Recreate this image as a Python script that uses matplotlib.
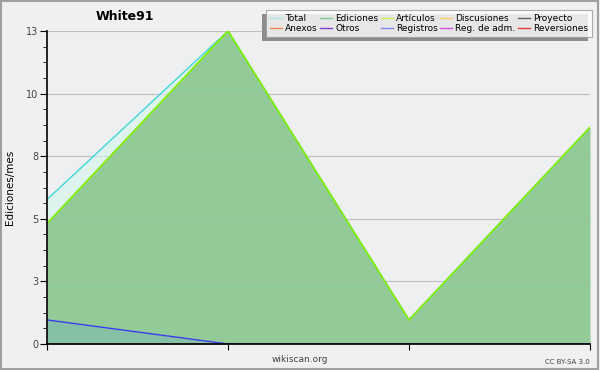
import matplotlib.pyplot as plt
from matplotlib.lines import Line2D
from matplotlib.ticker import FixedLocator, MultipleLocator

months = [0, 1, 2, 3]
total = [6, 13, 1, 9]
ediciones = [5, 13, 1, 9]
articulos = [5, 13, 1, 9]
registros = [1, 0, 0, 0]
zeros = [0, 0, 0, 0]

ymax = 13
ytick_labels = ['0', '3', '5', '8', '10', '13']

legend_names = ['Total', 'Anexos', 'Ediciones', 'Otros', 'Artículos', 'Registros',
                'Discusiones', 'Reg. de adm.', 'Proyecto', 'Reversiones']
legend_colors = ['#a8e4e0', '#f08850', '#80c890', '#8040d0', '#c8f050', '#8088f0',
                 '#f8d060', '#d050e0', '#606060', '#e04040']

fig = plt.figure(figsize=(6, 3.7), dpi=100, facecolor='#f0f0f0')
ax = fig.add_axes([47/600, 26/370, 543/600, 313/370])
ax.set_facecolor('#eeeff1')

# fills
ax.fill_between(months, total, color='#def2ee', lw=0, zorder=1)
ax.fill_between(months, ediciones, color='#93cb98', lw=0, zorder=2)
ax.fill_between(months, registros, color='#86c1a5', lw=0, zorder=3)

# grid shows faintly through the areas
for v in [ymax * i / 5 for i in range(1, 6)]:
    ax.axhline(v, color='#b0b0b0', lw=0.8, alpha=0.3, zorder=3.5)

# lines
ax.plot(months, total, color='#40d8d8', lw=1, zorder=4)
ax.plot(months, ediciones, color='#88c890', lw=1, zorder=4)
ax.plot(months, articulos, color='#80f000', lw=1.2, zorder=5)
ax.plot(months, registros, color='#3c3cf0', lw=1, zorder=5)
for c in ['#f08850', '#8040d0', '#f8d060', '#d050e0', '#606060', '#e04040']:
    ax.plot(months, zeros, color=c, lw=1, zorder=3)

ax.set_xlim(0, 3)
ax.set_ylim(0, ymax)
ax.set_xticks(months)
ax.set_xticklabels([])
ax.yaxis.set_major_locator(FixedLocator([ymax * i / 5 for i in range(6)]))
ax.set_yticklabels(ytick_labels)
ax.yaxis.set_minor_locator(MultipleLocator(ymax / 20))
ax.tick_params(axis='y', which='major', length=5, labelsize=7, colors='#000000',
               labelcolor='#444444', pad=1)
ax.tick_params(axis='y', which='minor', length=3)
ax.tick_params(axis='x', which='major', length=4, direction='out')
ax.grid(axis='y', color='#c8c8c8', lw=0.8, zorder=0)
ax.set_axisbelow(True)
for s in ['top', 'right']:
    ax.spines[s].set_visible(False)
ax.spines['left'].set_linewidth(1.2)
ax.spines['bottom'].set_linewidth(1.2)
ax.spines['left'].set_zorder(6)
ax.spines['bottom'].set_zorder(6)

ax.set_ylabel('Ediciones/mes', fontsize=7.5, labelpad=8)

fig.text(125/600, 1 - 17/370, 'White91', fontsize=9, fontweight='bold',
         ha='center', va='center')
fig.text(300/600, 1 - 360/370, 'wikiscan.org', fontsize=6.5, color='#444444',
         ha='center', va='center')
fig.text(590/600, 1 - 362/370, 'CC BY-SA 3.0', fontsize=5, color='#444444',
         ha='right', va='center')

handles = [Line2D([], [], color=c, lw=1) for c in legend_colors]
leg = fig.legend(handles, legend_names, ncol=5, loc='upper right',
                 bbox_to_anchor=(592/600, 1 - 10/370), fontsize=6.5,
                 frameon=True, fancybox=False,
                 handlelength=1.3, handletextpad=0.35, columnspacing=0.3,
                 labelspacing=0.15, borderpad=0.45, borderaxespad=0)
leg.get_frame().set_edgecolor('#999999')
leg.get_frame().set_linewidth(0.8)
leg.set_zorder(10)

# shadow to the lower left of the legend box
fig.canvas.draw()
bb = leg.get_window_extent().transformed(fig.transFigure.inverted())
fig.patches.append(plt.Rectangle((bb.x0 - 4/600, bb.y0 - 4/370), bb.width, bb.height,
                                 transform=fig.transFigure, facecolor='#8c8c8c',
                                 edgecolor='none', zorder=9))

fig.patches.append(plt.Rectangle((0.002, 0.003), 0.995, 0.994, transform=fig.transFigure,
                                 fill=False, edgecolor='#a0a0a0', lw=1.5))

fig.savefig('out.png', dpi=100, facecolor=fig.get_facecolor())
